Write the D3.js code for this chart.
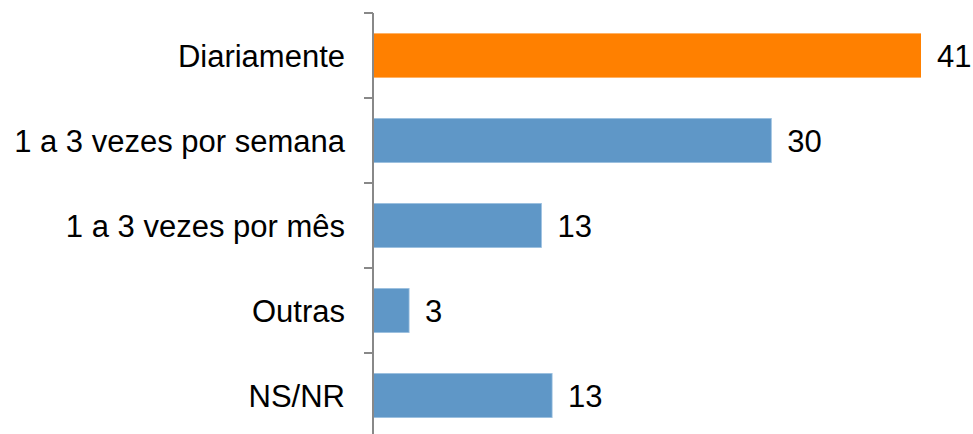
<!DOCTYPE html>
<html>
<head>
<meta charset="utf-8">
<script src="https://cdn.jsdelivr.net/npm/d3@7"></script>
<style>
  body { margin: 0; background: #fff; }
  text { font-family: "Liberation Sans", Arial, sans-serif; }
</style>
</head>
<body>
<div id="svg-container"></div>
<script>
// data
const categories = ["Diariamente", "1 a 3 vezes por semana", "1 a 3 vezes por mês", "Outras", "NS/NR"];
const values = [41, 29.8, 12.6, 2.7, 13.4];
const highlight = ["Diariamente"];

const width = 973, height = 434;
const margin = { top: 13, right: 52, bottom: -4, left: 373 };

const svg = d3.select("#svg-container").append("svg")
  .attr("width", width).attr("height", height);

// scales
const x = d3.scaleLinear().domain([0, 41]).range([margin.left, width - margin.right]);
const y = d3.scaleBand().domain(categories)
  .range([margin.top, height - margin.bottom])
  .paddingInner(0.48).paddingOuter(0.24);
const fmt = d3.format(".0f");

// bars
svg.selectAll(".bar")
  .data(categories)
  .enter()
  .append("rect")
  .attr("x", x(0))
  .attr("y", d => y(d))
  .attr("width", (d, i) => x(values[i]) - x(0))
  .attr("height", y.bandwidth())
  .attr("fill", d => highlight.includes(d) ? "#ff8000" : "#5f97c7")
  .attr("stroke", d => highlight.includes(d) ? "none" : "#9cc0e0")
  .attr("stroke-width", 0.8);

// value labels
svg.selectAll(".val")
  .data(categories)
  .enter()
  .append("text")
  .attr("x", (d, i) => x(values[i]) + 16)
  .attr("y", d => y(d) + y.bandwidth() / 2)
  .attr("dy", "0.36em")
  .attr("font-size", 31)
  .attr("fill", "#000")
  .text((d, i) => fmt(values[i]));

// category axis (boundary ticks)
const step = y.step();
const bounds = d3.range(categories.length + 1).map(i => margin.top + i * step);
svg.append("line")
  .attr("x1", margin.left).attr("x2", margin.left)
  .attr("y1", margin.top).attr("y2", height)
  .attr("stroke", "#888").attr("stroke-width", 2);
svg.selectAll(".tick")
  .data(bounds)
  .enter()
  .append("line")
  .attr("x1", margin.left - 9).attr("x2", margin.left)
  .attr("y1", d => d).attr("y2", d => d)
  .attr("stroke", "#888").attr("stroke-width", 2);

svg.selectAll(".cat")
  .data(categories)
  .enter()
  .append("text")
  .attr("x", margin.left - 28)
  .attr("y", d => y(d) + y.bandwidth() / 2)
  .attr("dy", "0.36em")
  .attr("text-anchor", "end")
  .attr("font-size", 31)
  .attr("fill", "#000")
  .text(d => d);
</script>
</body>
</html>
